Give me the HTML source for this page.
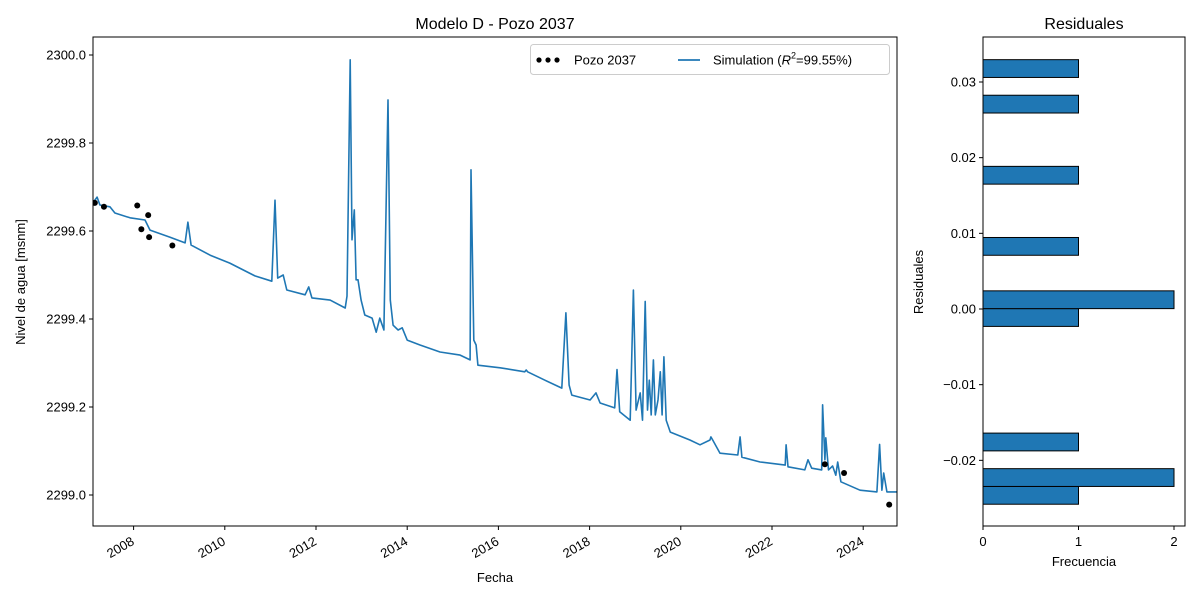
<!DOCTYPE html>
<html><head><meta charset="utf-8"><style>
body{margin:0;background:#fff;}
svg{display:block;font-family:"Liberation Sans","DejaVu Sans",sans-serif;}
</style></head><body>
<svg id="fig" width="1200" height="600" xmlns="http://www.w3.org/2000/svg"></svg>
<script>
const simYears=[2007.11,2007.20,2007.26,2007.48,2007.59,2007.92,2008.25,2008.36,2008.80,2009.13,2009.19,2009.26,2009.68,2010.11,2010.66,2011.03,2011.10,2011.16,2011.28,2011.36,2011.76,2011.84,2011.91,2012.31,2012.64,2012.68,2012.75,2012.79,2012.84,2012.88,2012.92,2012.99,2013.07,2013.23,2013.32,2013.40,2013.49,2013.58,2013.63,2013.69,2013.80,2013.89,2014.00,2014.28,2014.72,2015.16,2015.38,2015.40,2015.46,2015.51,2015.55,2016.04,2016.58,2016.61,2016.64,2017.02,2017.39,2017.48,2017.55,2017.61,2018.01,2018.14,2018.23,2018.55,2018.60,2018.66,2018.89,2018.96,2019.02,2019.11,2019.16,2019.22,2019.27,2019.31,2019.35,2019.40,2019.44,2019.50,2019.55,2019.59,2019.63,2019.68,2019.77,2019.94,2020.20,2020.42,2020.64,2020.66,2020.70,2020.86,2021.25,2021.30,2021.34,2021.74,2022.29,2022.31,2022.35,2022.72,2022.79,2022.87,2023.09,2023.11,2023.16,2023.18,2023.24,2023.33,2023.40,2023.44,2023.51,2023.93,2024.30,2024.36,2024.41,2024.45,2024.52,2024.74];
const simValues=[2299.664,2299.677,2299.659,2299.655,2299.641,2299.630,2299.625,2299.602,2299.586,2299.573,2299.620,2299.568,2299.545,2299.527,2299.498,2299.486,2299.670,2299.493,2299.500,2299.466,2299.455,2299.473,2299.448,2299.443,2299.425,2299.452,2299.989,2299.580,2299.648,2299.489,2299.489,2299.443,2299.409,2299.402,2299.370,2299.402,2299.375,2299.898,2299.443,2299.386,2299.375,2299.380,2299.352,2299.341,2299.325,2299.318,2299.307,2299.739,2299.352,2299.341,2299.295,2299.289,2299.280,2299.284,2299.280,2299.261,2299.243,2299.414,2299.250,2299.227,2299.216,2299.232,2299.209,2299.198,2299.285,2299.189,2299.170,2299.466,2299.193,2299.232,2299.170,2299.440,2299.193,2299.261,2299.182,2299.307,2299.182,2299.216,2299.280,2299.182,2299.314,2299.170,2299.143,2299.136,2299.125,2299.114,2299.125,2299.132,2299.125,2299.095,2299.091,2299.132,2299.086,2299.075,2299.068,2299.114,2299.064,2299.057,2299.080,2299.061,2299.057,2299.205,2299.080,2299.130,2299.057,2299.066,2299.045,2299.075,2299.030,2299.011,2299.007,2299.115,2299.011,2299.050,2299.007,2299.007];
const obsYears=[2007.15,2007.35,2008.08,2008.32,2008.17,2008.34,2008.85,2023.16,2023.58,2024.57];
const obsValues=[2299.664,2299.655,2299.658,2299.636,2299.604,2299.586,2299.567,2299.070,2299.050,2298.978];
const yTicks=[2299.0,2299.2,2299.4,2299.6,2299.8,2300.0];
const xTicks=[2008,2010,2012,2014,2016,2018,2020,2022,2024];
const histBinStart=-0.0258, histBinWidth=0.00235;
const histCounts=[1,2,0,1,0,0,0,0,0,0,1,2,0,0,1,0,0,0,1,0,0,0,1,0,1];
const hYTicks=[-0.02,-0.01,0.00,0.01,0.02,0.03];
const hXTicks=[0,1,2];

const NS="http://www.w3.org/2000/svg";
const svg=document.getElementById('fig');
function el(tag,attrs,parent,text){const e=document.createElementNS(NS,tag);for(const k in attrs)e.setAttribute(k,attrs[k]);if(text!==undefined)e.textContent=text;(parent||svg).appendChild(e);return e;}

const L=93,R=897,T=37,B=526;
const xS=y=>133.6+(y-2008)*45.6;
const yS=v=>55+(2300-v)*440;
const gMain=el('g',{});


el('defs',{},gMain).innerHTML='<clipPath id="cp"><rect x="93" y="37" width="804" height="489"/></clipPath>';
let d='';simYears.forEach((y,i)=>{d+=(i?'L':'M')+xS(y).toFixed(1)+','+yS(simValues[i]).toFixed(1);});
const line=el('path',{d:d,fill:'none',stroke:'#1f77b4','stroke-width':1.6,'stroke-linejoin':'round','clip-path':'url(#cp)'},gMain);


obsYears.forEach((y,i)=>{const c=el('circle',{cx:xS(y),cy:yS(obsValues[i]),r:3,fill:'#000','clip-path':'url(#cp)'},gMain);

});
el('rect',{x:L,y:T,width:R-L,height:B-T,fill:'none',stroke:'#000','stroke-width':1},gMain);
yTicks.forEach(v=>{const y=yS(v);el('line',{x1:L-4,x2:L,y1:y,y2:y,stroke:'#000'},gMain);
const t=el('text',{x:L-7,y:y+4.5,'text-anchor':'end','font-size':13},gMain,v.toFixed(1));

});
xTicks.forEach(v=>{const x=xS(v);el('line',{x1:x,x2:x,y1:B,y2:B+4,stroke:'#000'},gMain);
const tx=x-3;
const t=el('text',{x:tx,y:B+10,'text-anchor':'end','font-size':13,transform:`rotate(-30 ${tx} ${B+10})`,dy:'0.7em'},gMain,String(v));

});
const tt=el('text',{x:495,y:29,'text-anchor':'middle','font-size':16},gMain,'Modelo D - Pozo 2037');

const xl=el('text',{x:495,y:582,'text-anchor':'middle','font-size':13},gMain,'Fecha');

const yl=el('text',{x:25,y:282,'text-anchor':'middle','font-size':13,transform:'rotate(-90 25 282)'},gMain,'Nivel de agua [msnm]');

const lg=el('g',{},gMain);


el('rect',{x:530.5,y:44.5,width:359,height:30,rx:3,fill:'#fff',stroke:'#ccc'},lg);
[539,548,557].forEach(x=>el('circle',{cx:x,cy:60,r:2.6,fill:'#000'},lg));
el('text',{x:574,y:64.5,'font-size':13},lg,'Pozo 2037');
el('line',{x1:678,x2:700,y1:60,y2:60,stroke:'#1f77b4','stroke-width':1.8},lg);
el('text',{x:713,y:64.5,'font-size':13},lg).innerHTML='Simulation (<tspan font-style="italic">R</tspan><tspan font-size="9" dy="-6">2</tspan><tspan dy="6">=99.55%)</tspan>';

const HL=983,HR=1185;
const hx=c=>983+c*95.5;
const hy=v=>309-v*7567;
const gH=el('g',{});


histCounts.forEach((c,i)=>{if(!c)return;const lo=histBinStart+i*histBinWidth,hi=lo+histBinWidth;
const r=el('rect',{x:hx(0),y:hy(hi),width:hx(c)-hx(0),height:hy(lo)-hy(hi),fill:'#1f77b4',stroke:'#000','stroke-width':1},gH);

});
el('rect',{x:HL,y:T,width:HR-HL,height:B-T,fill:'none',stroke:'#000'},gH);
hYTicks.forEach(v=>{const y=hy(v);el('line',{x1:HL-4,x2:HL,y1:y,y2:y,stroke:'#000'},gH);
const t=el('text',{x:HL-7,y:y+4.5,'text-anchor':'end','font-size':13},gH,v===0?'0.00':(v<0?'\u2212':'')+Math.abs(v).toFixed(2));

});
hXTicks.forEach(v=>{const x=hx(v);el('line',{x1:x,x2:x,y1:B,y2:B+4,stroke:'#000'},gH);
const t=el('text',{x:x,y:B+20,'text-anchor':'middle','font-size':13},gH,String(v));

});
const ht=el('text',{x:1084,y:29,'text-anchor':'middle','font-size':16},gH,'Residuales');

const hxl=el('text',{x:1084,y:566,'text-anchor':'middle','font-size':13},gH,'Frecuencia');

const hyl=el('text',{x:923,y:282,'text-anchor':'middle','font-size':13,transform:'rotate(-90 923 282)'},gH,'Residuales');

</script>
</body></html>
